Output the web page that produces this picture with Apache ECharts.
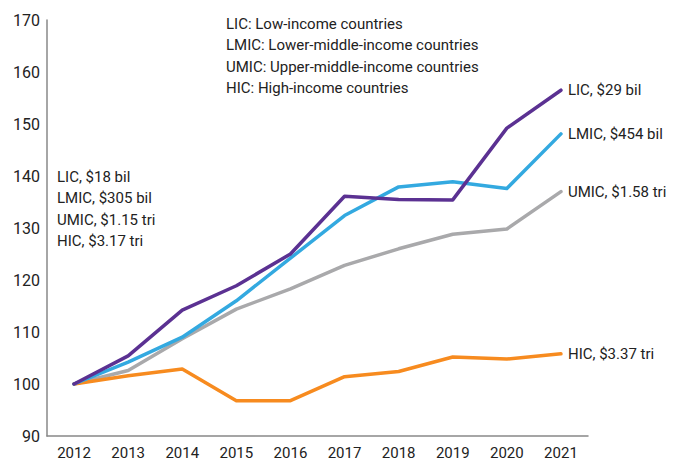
<!DOCTYPE html>
<html>
<head>
<meta charset="utf-8">
<script src="https://cdn.jsdelivr.net/npm/echarts@6/dist/echarts.min.js"></script>
<style>
  html, body { margin: 0; padding: 0; background: #fff; }
  #chart { width: 687px; height: 464px; }
</style>
</head>
<body>
<div id="chart"></div>
<script>
// years on the x axis
const years = ['2012', '2013', '2014', '2015', '2016', '2017', '2018', '2019', '2020', '2021'];

// index values (2012 = 100)
const licVals  = [100, 105.4, 114.2, 118.9, 125.0, 136.1, 135.5, 135.4, 149.2, 156.5];
const lmicVals = [100, 104.2, 109.0, 116.0, 124.2, 132.4, 137.9, 138.9, 137.6, 148.1];
const umicVals = [100, 102.6, 108.7, 114.4, 118.3, 122.8, 126.0, 128.8, 129.8, 137.0];
const hicVals  = [100, 101.6, 102.9, 96.8, 96.8, 101.4, 102.4, 105.2, 104.8, 105.8];

// end-of-line labels
const endNames = ['LIC, $29 bil', 'LMIC, $454 bil', 'UMIC, $1.58 tri', 'HIC, $3.37 tri'];
// 2012 amounts (left note)
const startNotes = ['LIC, $18 bil', 'LMIC, $305 bil', 'UMIC, $1.15 tri', 'HIC, $3.17 tri'];
// abbreviation key
const keyLines = [
  'LIC: Low-income countries',
  'LMIC: Lower-middle-income countries',
  'UMIC: Upper-middle-income countries',
  'HIC: High-income countries'
];

const font = 'Roboto, "Liberation Sans", sans-serif';
const textColor = '#222';

function lineSeries(name, data, color, label) {
  return {
    name,
    type: 'line',
    data,
    symbol: 'none',
    lineStyle: { color, width: 3.5, cap: 'round', join: 'round' },
    endLabel: {
      show: true,
      formatter: label,
      color: textColor,
      fontFamily: font,
      fontSize: 15,
      distance: 7
    }
  };
}

const chart = echarts.init(document.getElementById('chart'), null, { renderer: 'svg' });

chart.setOption({
  animation: false,
  backgroundColor: '#fff',
  grid: { left: 47, top: 20, width: 541, height: 416 },
  xAxis: {
    type: 'category',
    data: years,
    boundaryGap: true,
    axisLine: { lineStyle: { color: '#888', width: 1.5 } },
    axisTick: { show: false },
    axisLabel: { color: textColor, fontFamily: font, fontSize: 15, margin: 9 }
  },
  yAxis: {
    type: 'value',
    min: 90,
    max: 170,
    interval: 10,
    axisLine: { show: true, lineStyle: { color: '#888', width: 1.5 } },
    axisTick: { show: false },
    splitLine: { show: false },
    axisLabel: { color: textColor, fontFamily: font, fontSize: 16, margin: 7 }
  },
  graphic: [
    {
      type: 'text',
      left: 226,
      top: 13,
      style: {
        text: keyLines.join('\n'),
        fill: textColor,
        font: '15px ' + font,
        lineHeight: 21.5
      }
    },
    {
      type: 'text',
      left: 57,
      top: 166,
      style: {
        text: startNotes.join('\n'),
        fill: textColor,
        font: '15px ' + font,
        lineHeight: 21.5
      }
    }
  ],
  series: [
    lineSeries('UMIC', umicVals, '#a9a9ab', endNames[2]),
    lineSeries('HIC', hicVals, '#f78b1f', endNames[3]),
    lineSeries('LMIC', lmicVals, '#33a9e0', endNames[1]),
    lineSeries('LIC', licVals, '#5b3192', endNames[0])
  ]
});
</script>
</body>
</html>
